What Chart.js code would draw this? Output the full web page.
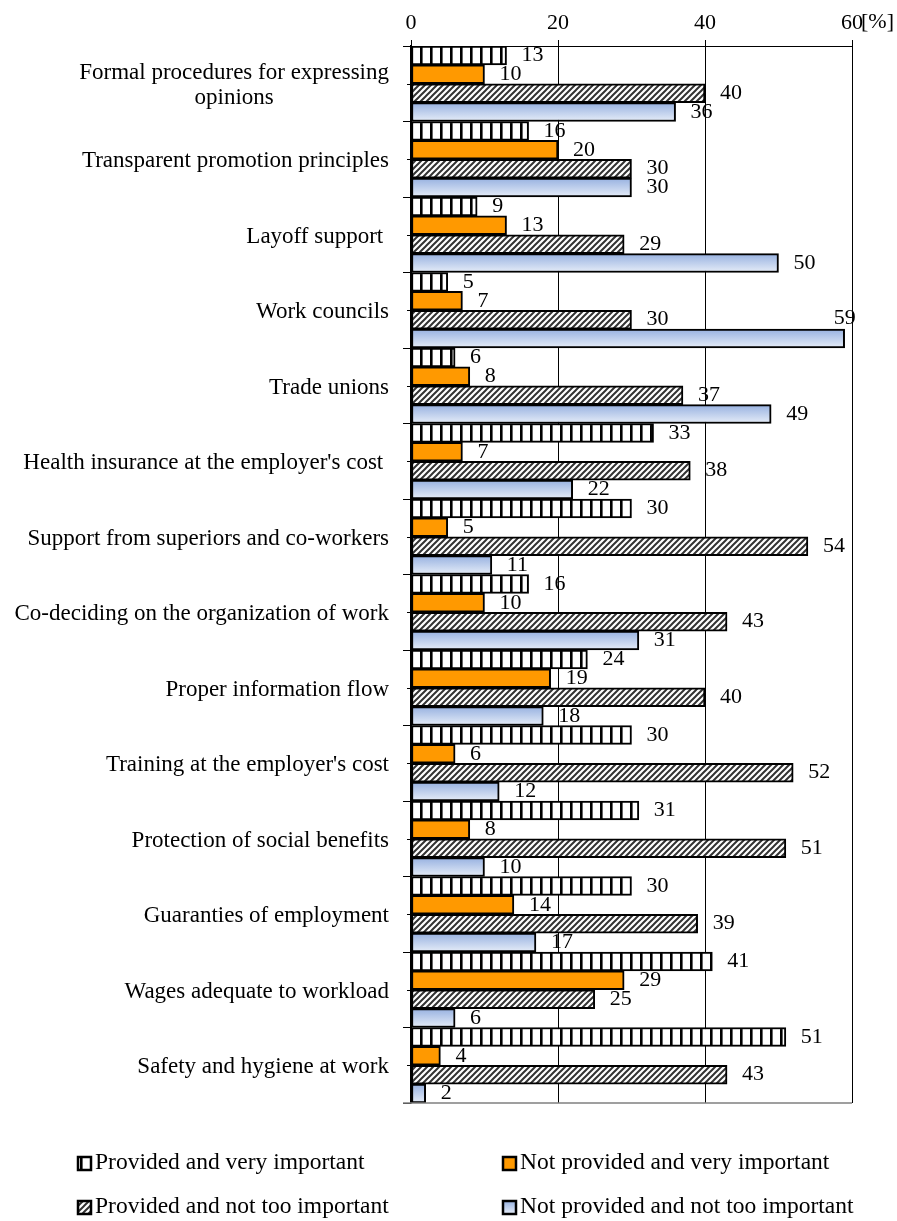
<!DOCTYPE html>
<html>
<head>
  <title>Employee benefits</title>
  <script src="https://cdn.jsdelivr.net/npm/chart.js"></script>
  <style>
    body { margin: 0; background: #fff; }
  </style>
</head>
<body>
  <canvas id="benefitsChart" width="897" height="1221"></canvas>

  <script>
    const categories = [
      ['Formal procedures for expressing', 'opinions'],
      ['Transparent promotion principles'],
      ['Layoff support '],
      ['Work councils'],
      ['Trade unions'],
      ["Health insurance at the employer's cost "],
      ['Support from superiors and co-workers'],
      ['Co-deciding on the organization of work'],
      ['Proper information flow'],
      ["Training at the employer's cost"],
      ['Protection of social benefits'],
      ['Guaranties of employment'],
      ['Wages adequate to workload'],
      ['Safety and hygiene at work']
    ];
    const providedVeryImportant = [13, 16, 9, 5, 6, 33, 30, 16, 24, 30, 31, 30, 41, 51];
    const notProvidedVeryImportant = [10, 20, 13, 7, 8, 7, 5, 10, 19, 6, 8, 14, 29, 4];
    const providedNotImportant = [40, 30, 29, 30, 37, 38, 54, 43, 40, 52, 51, 39, 25, 43];
    const notProvidedNotImportant = [36, 30, 50, 59, 49, 22, 11, 31, 18, 12, 10, 17, 6, 2];
    const seriesNames = [
      'Provided and very important',
      'Not provided and very important',
      'Provided and not too important',
      'Not provided and not too important'
    ];
    const xTicks = [0, 20, 40, 60];

    const FONT = '"Liberation Serif", "Times New Roman", serif';
    const canvas = document.getElementById('benefitsChart');
    const mainCtx = canvas.getContext('2d');

    // white with black vertical stripes
    function stripePattern() {
      const c = document.createElement('canvas');
      c.width = 10; c.height = 10;
      const g = c.getContext('2d');
      g.fillStyle = '#fff';
      g.fillRect(0, 0, 10, 10);
      g.fillStyle = '#000';
      g.fillRect(0, 0, 2, 10);
      g.fillStyle = '#666';
      g.fillRect(2, 0, 1, 10);
      return mainCtx.createPattern(c, 'repeat');
    }

    // dark upward diagonal hatch
    function hatchPattern() {
      const s = 6;
      const c = document.createElement('canvas');
      c.width = s; c.height = s;
      const g = c.getContext('2d');
      g.fillStyle = '#fff';
      g.fillRect(0, 0, s, s);
      g.strokeStyle = '#333';
      g.lineWidth = 2;
      g.beginPath();
      g.moveTo(-1, s + 1); g.lineTo(s + 1, -1);
      g.moveTo(-1, 1); g.lineTo(1, -1);
      g.moveTo(s - 1, s + 1); g.lineTo(s + 1, s - 1);
      g.stroke();
      return mainCtx.createPattern(c, 'repeat');
    }

    const stripes = stripePattern();
    const hatch = hatchPattern();
    const orange = '#ff9900';

    // light blue bars fade from top to bottom
    function blueFill(ctx) {
      const chart = ctx.chart;
      const y = chart.scales.y;
      if (!y || ctx.type !== 'data') return '#c4d3ee';
      const band = (y.bottom - y.top) / categories.length;
      const top = y.getPixelForValue(ctx.dataIndex) + band / 4;
      if (!isFinite(top) || !isFinite(band) || band <= 0) return '#c4d3ee';
      const g = chart.ctx.createLinearGradient(0, top, 0, top + band / 4);
      g.addColorStop(0, '#97b1e0');
      g.addColorStop(1, '#e6edf8');
      return g;
    }

    const legendFills = [stripes, orange, hatch, null];

    const valueLabels = {
      id: 'valueLabels',
      afterDatasetsDraw(chart) {
        const { ctx, chartArea } = chart;
        ctx.save();
        ctx.font = '22px ' + FONT;
        ctx.fillStyle = '#000';
        ctx.textBaseline = 'middle';
        chart.data.datasets.forEach((ds, di) => {
          chart.getDatasetMeta(di).data.forEach((bar, i) => {
            const text = String(ds.data[i]);
            const w = ctx.measureText(text).width;
            let x = bar.x + 15;
            let y = bar.y;
            ctx.textAlign = 'left';
            if (x + w > chartArea.right + 4) {
              // no room on the right: put it above the bar end
              ctx.textAlign = 'center';
              x = bar.x;
              y = bar.y - 20;
            }
            ctx.fillText(text, x, y);
          });
        });
        ctx.restore();
      }
    };

    const extras = {
      id: 'extras',
      afterDraw(chart) {
        const { ctx, chartArea } = chart;
        const yScale = chart.scales.y;
        ctx.save();

        // bottom frame line
        ctx.strokeStyle = '#7f7f7f';
        ctx.lineWidth = 1.5;
        ctx.beginPath();
        ctx.moveTo(chartArea.left - 8, chartArea.bottom);
        ctx.lineTo(chartArea.right, chartArea.bottom);
        ctx.stroke();

        // short ticks at category centres
        ctx.strokeStyle = '#000';
        ctx.lineWidth = 1;
        categories.forEach((c, i) => {
          const y = Math.round(yScale.getPixelForValue(i)) + 0.5;
          ctx.beginPath();
          ctx.moveTo(chartArea.left - 4, y);
          ctx.lineTo(chartArea.left, y);
          ctx.stroke();
        });

        // category labels: block right aligned, lines centred
        ctx.font = '23px ' + FONT;
        ctx.fillStyle = '#000';
        ctx.textAlign = 'center';
        ctx.textBaseline = 'middle';
        const lineH = 25;
        categories.forEach((lines, i) => {
          const widest = Math.max(...lines.map(l => ctx.measureText(l).width));
          const cx = chartArea.left - 22 - widest / 2;
          const cy = yScale.getPixelForValue(i) + 2;
          lines.forEach((l, k) => {
            ctx.fillText(l, cx, cy + (k - (lines.length - 1) / 2) * lineH);
          });
        });

        // unit after the last x tick
        ctx.font = '22px ' + FONT;
        ctx.textAlign = 'left';
        ctx.fillText('[%]', chartArea.right + 9, 22);

        // legend, two columns
        const cols = [78, 503];
        const rows = [1163, 1207];
        ctx.font = '23.5px ' + FONT;
        seriesNames.forEach((name, i) => {
          const bx = cols[i % 2];
          const by = rows[Math.floor(i / 2)];
          let fill = legendFills[i];
          if (!fill) {
            fill = ctx.createLinearGradient(0, by - 6, 0, by + 7);
            fill.addColorStop(0, '#97b1e0');
            fill.addColorStop(1, '#e6edf8');
          }
          ctx.fillStyle = fill;
          ctx.fillRect(bx, by - 6, 13, 13);
          ctx.strokeStyle = '#000';
          ctx.lineWidth = 2.5;
          ctx.strokeRect(bx, by - 6, 13, 13);
          ctx.fillStyle = '#000';
          ctx.fillText(name, bx + 17, by);
        });

        ctx.restore();
      }
    };

    const barStyle = {
      borderColor: '#000',
      borderWidth: 2,
      borderSkipped: false,
      categoryPercentage: 1.0,
      barPercentage: 1.0
    };

    new Chart(canvas, {
      type: 'bar',
      data: {
        labels: categories,
        datasets: [
          { label: seriesNames[0], data: providedVeryImportant, backgroundColor: stripes, ...barStyle },
          { label: seriesNames[1], data: notProvidedVeryImportant, backgroundColor: orange, ...barStyle },
          { label: seriesNames[2], data: providedNotImportant, backgroundColor: hatch, ...barStyle },
          { label: seriesNames[3], data: notProvidedNotImportant, backgroundColor: blueFill, ...barStyle }
        ]
      },
      options: {
        indexAxis: 'y',
        responsive: false,
        animation: false,
        layout: { padding: { left: 0, right: 45, top: 0, bottom: 118 } },
        plugins: {
          legend: { display: false },
          tooltip: { enabled: false }
        },
        scales: {
          x: {
            position: 'top',
            min: 0,
            max: 60,
            afterBuildTicks: (scale) => { scale.ticks = xTicks.map(v => ({ value: v })); },
            afterFit: (scale) => { scale.height = 46; },
            ticks: {
              color: '#000',
              font: { family: FONT, size: 22 },
              padding: 4,
              maxRotation: 0
            },
            grid: { color: '#000', lineWidth: 1, tickLength: 6 },
            border: { color: '#000', width: 1 }
          },
          y: {
            afterFit: (scale) => { scale.width = 411; },
            ticks: { display: false },
            grid: { offset: true, drawOnChartArea: false, color: '#000', tickLength: 8 },
            border: { color: '#000', width: 1.5 }
          }
        }
      },
      plugins: [valueLabels, extras]
    });
  </script>
</body>
</html>
